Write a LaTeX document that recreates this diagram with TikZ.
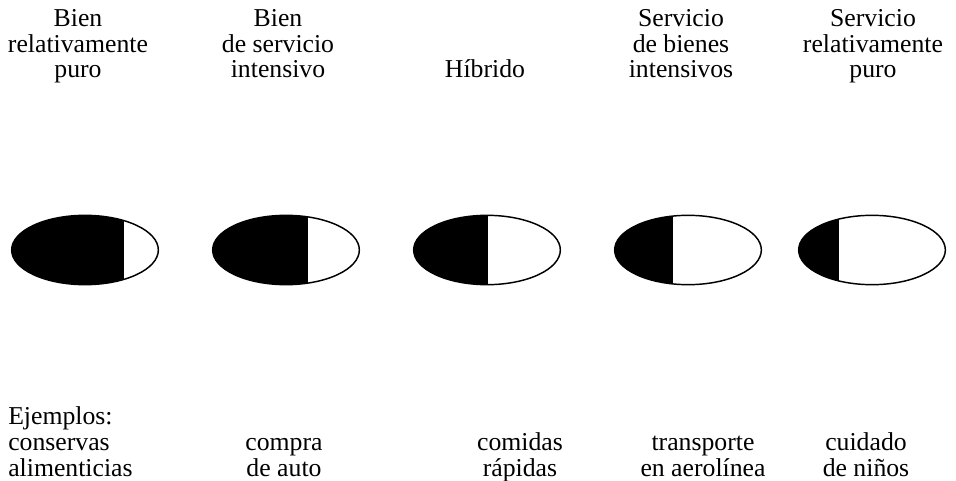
\documentclass[tikz,border=0pt]{standalone}
\usepackage{fontspec}
\setmainfont{Liberation Serif}
\usetikzlibrary{shapes.geometric}
\tikzset{
	prod/.style={ellipse,draw,line width=1.1pt,minimum width=110pt,minimum height=52pt,inner sep=0pt,
		path picture={\fill (path picture bounding box.south west) rectangle ([xshift=#1*0.75pt]path picture bounding box.north);
			\draw[line width=1.1pt] ([xshift=#1*0.75pt]path picture bounding box.north) -- ([xshift=#1*0.75pt]path picture bounding box.south);}},
	lbl/.style={align=center,inner sep=0pt,font=\fontsize{19.3}{19.3}\selectfont},
}
\begin{document}
\begin{tikzpicture}[x=0.75pt,y=-0.75pt]
				\useasboundingbox (0,0) rectangle (956,481);
				% productos: del bien puro al servicio puro
				\node[prod=38] (e1) at (85,250) {};
				\node[prod=21] (e2) at (286,250) {};
				\node[prod=0] (e3) at (487,250) {};
				\node[prod=-16] (e4) at (688,250) {};
				\node[prod=-34] (e5) at (872,250) {};
				
				\node[lbl,anchor=base] (t1) at (78,78) {Bien\\relativamente\\puro};
				\node[lbl,anchor=base] (t2) at (278,78) {Bien\\de servicio\\intensivo};
				\node[lbl,anchor=base] (t3) at (485,78) {Híbrido};
				\node[lbl,anchor=base] (t4) at (681,78) {Servicio\\de bienes\\intensivos};
				\node[lbl,anchor=base] (t5) at (873,78) {Servicio\\relativamente\\puro};
				
				% ejemplos
				\node[lbl,align=left,anchor=base west] (b1) at (8,476) {Ejemplos:\\conservas\\alimenticias};
				\node[lbl,anchor=base] (b2) at (284,476) {compra\\de auto};
				\node[lbl,anchor=base] (b3) at (520,476) {comidas\\rápidas};
				\node[lbl,anchor=base] (b4) at (703,476) {transporte\\en aerolínea};
				\node[lbl,anchor=base] (b5) at (866,476) {cuidado\\de niños};
\end{tikzpicture}
\end{document}
